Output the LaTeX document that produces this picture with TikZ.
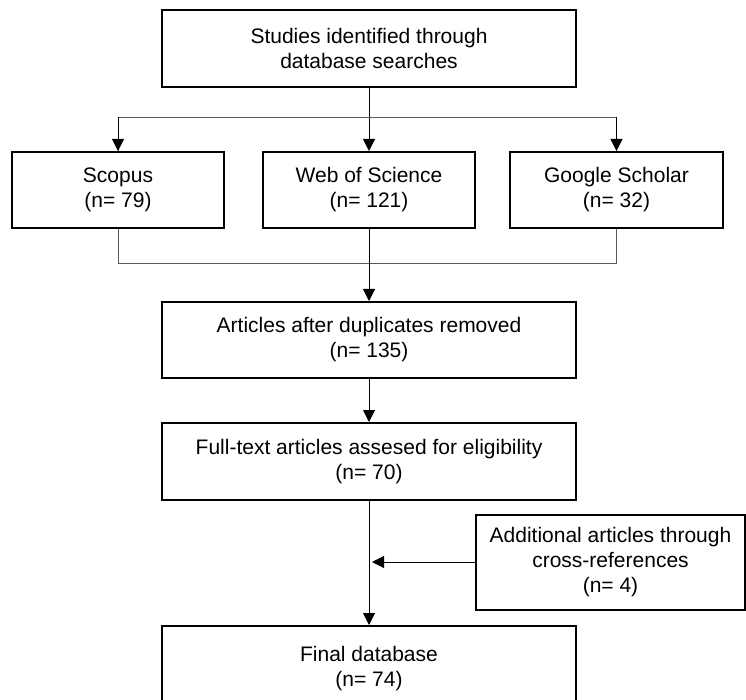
\documentclass[tikz,border=0pt]{standalone}
\usepackage{fontspec}
\setmainfont{Liberation Sans}
\usetikzlibrary{arrows.meta}
\begin{document}
\begin{tikzpicture}[x=1pt,y=-1pt,
  box/.style={draw=black,line width=2pt,rectangle,inner sep=0pt,align=center,
    font=\fontsize{21pt}{25pt}\selectfont},
  mainline/.style={draw=black,line width=1pt},
  branch/.style={draw=black!65,line width=1pt},
  tip/.style={-{Triangle[width=12pt,length=12pt]}}
]
\useasboundingbox (0,0) rectangle (746,700);
\clip (0,0) rectangle (746,700);
\node[box,minimum width=414pt,minimum height=77pt] (top) at (369,48.5) {Studies identified through\\database searches};
\node[box,minimum width=212pt,minimum height=76pt] (scopus) at (118,190) {Scopus\\(n= 79)};
\node[box,minimum width=212pt,minimum height=76pt] (wos) at (369,190) {Web of Science\\(n= 121)};
\node[box,minimum width=213pt,minimum height=76pt] (gs) at (616.5,190) {Google Scholar\\(n= 32)};
\node[box,minimum width=414pt,minimum height=76pt] (art) at (369,340) {Articles after duplicates removed\\(n= 135)};
\node[box,minimum width=414pt,minimum height=77pt] (full) at (369,461.5) {Full-text articles assesed for eligibility\\(n= 70)};
\node[box,minimum width=269pt,minimum height=95pt] (add) at (610.5,562) {Additional articles through\\cross-references\\(n= 4)};
\node[box,minimum width=414pt,minimum height=86pt] (final) at (369,669) {Final database\\(n= 74)};
\coordinate (split) at (369,118);
\coordinate (join) at (369,264);
\coordinate (merge) at (372,562);
\draw[mainline] (top.south) -- (split);
\draw[mainline,tip] (split) -- (wos.north);
\draw[branch] (split) -| (scopus.north);
\draw[branch] (split) -| (gs.north);
\draw[mainline,tip] (scopus.north |- split) ++(0,-0.5) -- (scopus.north);
\draw[mainline,tip] (gs.north |- split) ++(0,-0.5) -- (gs.north);
\draw[branch] (scopus.south) |- (join);
\draw[branch] (gs.south) |- (join);
\draw[mainline] (wos.south) -- (join);
\draw[mainline,tip] (join) -- (art.north);
\draw[mainline,tip] (art.south) -- (full.north);
\draw[mainline,tip] (full.south) -- (final.north);
\draw[mainline,tip] (add.west) -- (merge);
\end{tikzpicture}
\end{document}
